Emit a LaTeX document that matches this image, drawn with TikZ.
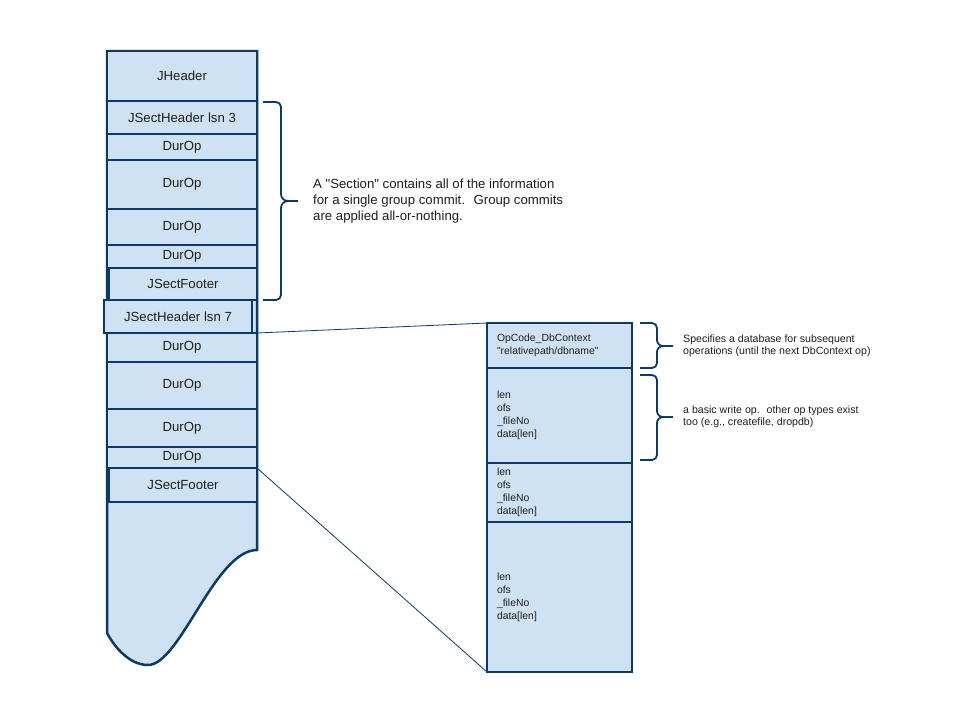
\documentclass[tikz,border=0pt]{standalone}
\usepackage{fontspec}
\setmainfont{Liberation Sans}

\definecolor{jfill}{HTML}{CFE2F3}
\definecolor{jline}{HTML}{0B3A66}
\definecolor{jtext}{HTML}{1E1E1E}

\tikzstyle{rowblock} = [draw=jline, fill=jfill, line width=2pt, anchor=north west, outer sep=0pt, inner sep=0pt, minimum width=150pt, text=jtext, font=\fontsize{13.2}{15}\selectfont]
\tikzstyle{opblock} = [draw=jline, fill=jfill, line width=2pt, anchor=north west, outer sep=0pt, inner xsep=10pt, inner ysep=0pt, text width=125pt, align=left, text=jtext, font=\fontsize{10.4}{13}\selectfont]
\tikzstyle{notetext} = [anchor=west, align=left, inner sep=0pt, text=jtext]
\tikzstyle{bracket} = [draw=jline, line width=1.8pt]

\begin{document}
\begin{tikzpicture}[x=1pt, y=-1pt]
      \useasboundingbox (0,0) rectangle (960,720);

      % journal file column
      \draw[draw=jline, fill=jfill, line width=2.5pt] (107,51) -- (257,51) -- (257,550)
        .. controls (215,550) and (180,665) .. (148,665)
        .. controls (130,665) and (115,648) .. (107,633) -- cycle;

      \node[rowblock, minimum height=50pt] (jhdr) at (107,51) {JHeader};
      \node[rowblock, minimum height=33pt] (sect3) at (107,101) {JSectHeader lsn 3};
      \node[rowblock, minimum height=26pt] (dur1) at (107,134) {DurOp};
      \node[rowblock, minimum height=49pt] (dur2) at (107,160) {DurOp};
      \node[rowblock, minimum height=36pt] (dur3) at (107,209) {DurOp};
      \node[rowblock, minimum height=23pt] (dur4) at (107,245) {DurOp};
      \node[rowblock, minimum height=32pt, minimum width=148pt] (foot3) at (109,268) {JSectFooter};
      \node[rowblock, minimum height=33pt, minimum width=148pt] (sect7) at (104,300) {JSectHeader lsn 7};
      \node[rowblock, minimum height=29pt] (dur5) at (107,333) {DurOp};
      \node[rowblock, minimum height=47pt] (dur6) at (107,362) {DurOp};
      \node[rowblock, minimum height=38pt] (dur7) at (107,409) {DurOp};
      \node[rowblock, minimum height=21pt] (dur8) at (107,447) {DurOp};
      \node[rowblock, minimum height=34pt, minimum width=148pt] (foot7) at (109,468) {JSectFooter};

      % section brace
      \draw[bracket] (263,102) -- (276,102) to[out=0,in=90] (281,107) -- (281,194)
        to[out=-90,in=180] (288,201) -- (298,201);
      \draw[bracket] (288,201) to[out=180,in=90] (281,208) -- (281,295)
        to[out=-90,in=0] (276,300) -- (263,300);
      \node[notetext, font=\fontsize{13.2}{16}\selectfont] (sectnote) at (313,201)
        {A \textquotedbl Section\textquotedbl\ contains all of the information\\for a single group commit.~ Group commits\\are applied all-or-nothing.};

      % expanded section
      \node[opblock, minimum height=45pt] (ctx) at (487,323) {OpCode\_DbContext\\\textquotedbl relativepath/dbname\textquotedbl};
      \node[opblock, minimum height=95pt] (op1) at (487,368) {len\\ofs\\\_fileNo\\data[len]};
      \node[opblock, minimum height=59pt] (op2) at (487,463) {len\\ofs\\\_fileNo\\data[len]};
      \node[opblock, minimum height=150pt] (op3) at (487,522) {len\\ofs\\\_fileNo\\data[len]};

      \draw[jline, line width=0.8pt] (dur5.north east) -- (ctx.north west);
      \draw[jline, line width=0.8pt] (dur8.south east) -- (op3.south west);

      % op braces
      \draw[bracket] (640,323) -- (652,323) to[out=0,in=90] (657,328) -- (657,340)
        to[out=-90,in=180] (663,346) -- (673,346);
      \draw[bracket] (663,346) to[out=180,in=90] (657,352) -- (657,363)
        to[out=-90,in=0] (652,368) -- (640,368);
      \node[notetext, font=\fontsize{10.6}{12.5}\selectfont] (ctxnote) at (683,346)
        {Specifies a database for subsequent\\operations (until the next DbContext op)};

      \draw[bracket] (640,375) -- (652,375) to[out=0,in=90] (657,380) -- (657,411)
        to[out=-90,in=180] (663,417) -- (673,417);
      \draw[bracket] (663,417) to[out=180,in=90] (657,423) -- (657,455)
        to[out=-90,in=0] (652,460) -- (640,460);
      \node[notetext, font=\fontsize{10.6}{12.5}\selectfont] (opnote) at (683,417)
        {a basic write op.~ other op types exist\\too (e.g., createfile, dropdb)};
\end{tikzpicture}
\end{document}
